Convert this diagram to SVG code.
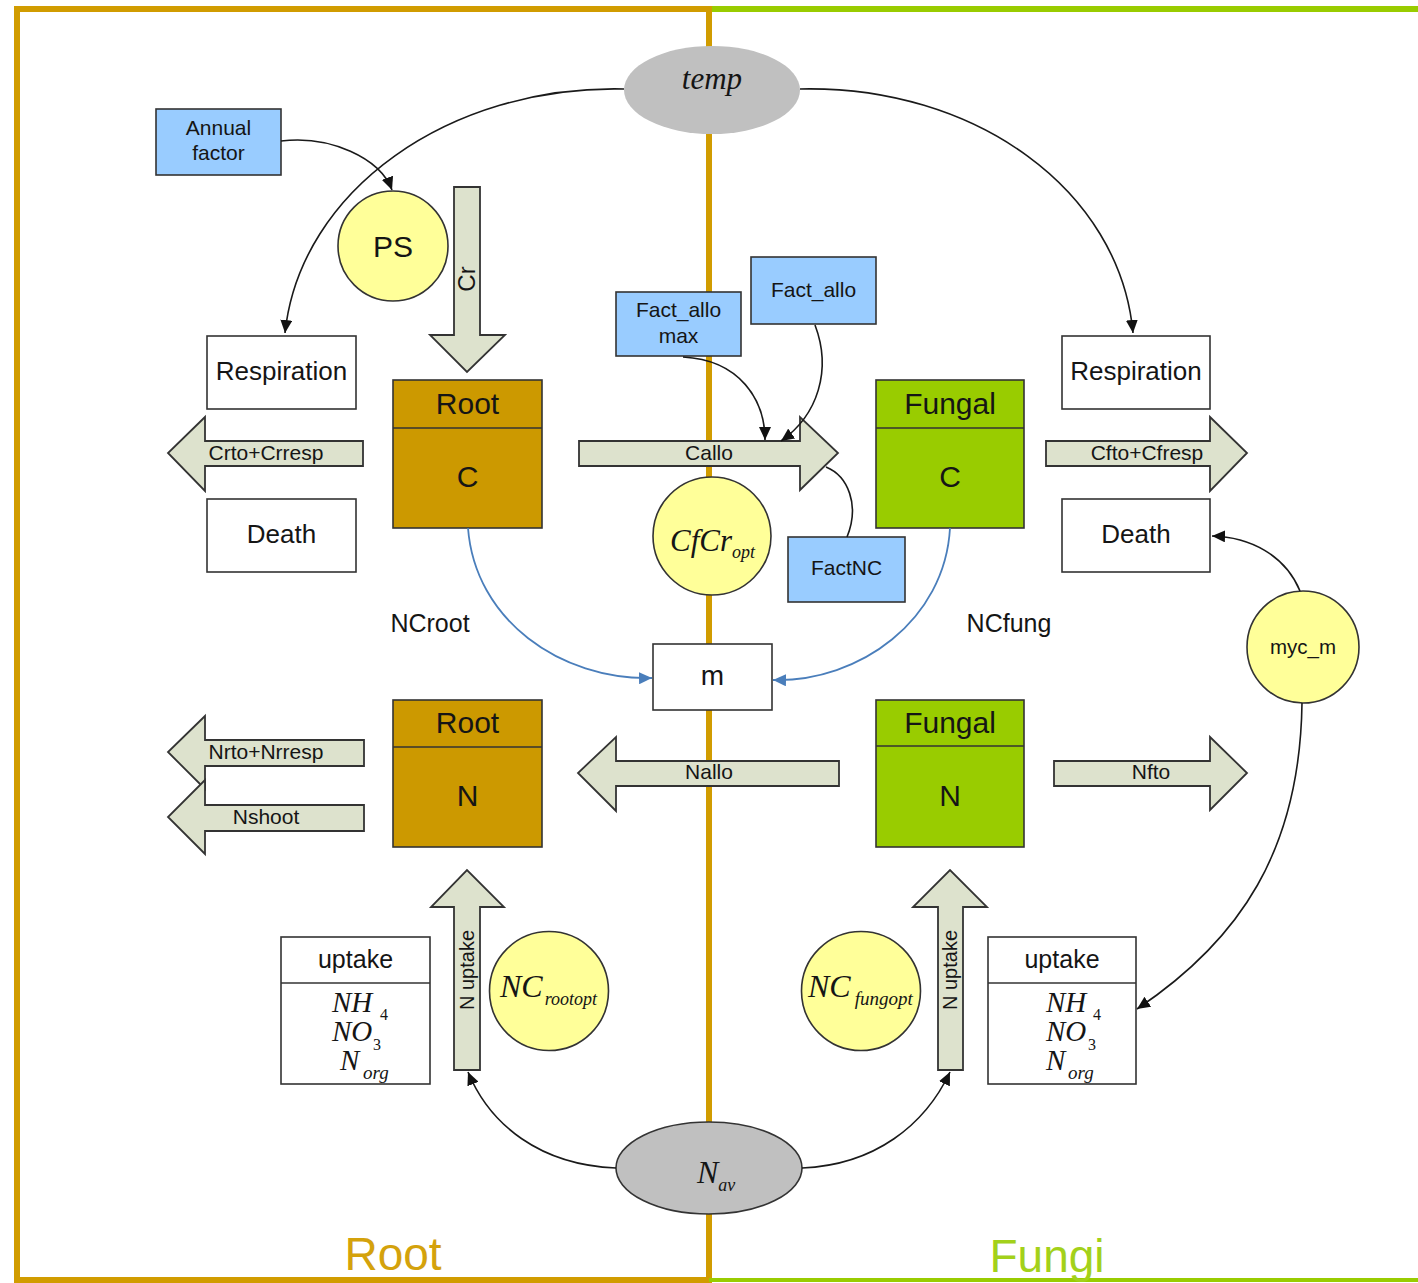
<svg xmlns="http://www.w3.org/2000/svg" width="1418" height="1283" viewBox="0 0 1418 1283">
  <style>
    .sans { font-family: "Liberation Sans", Arial, sans-serif; fill: #151515; }
    .math { font-family: "Liberation Serif", "Times New Roman", serif; font-style: italic; fill: #151515; }
    .digit { font-family: "Liberation Serif", "Times New Roman", serif; fill: #151515; }
    .box { fill: #ffffff; stroke: #333333; stroke-width: 1.6; }
    .param { fill: #99ccff; stroke: #333333; stroke-width: 1.6; }
    .yellow { fill: #ffff99; stroke: #333333; stroke-width: 1.6; }
    .rootpool { fill: #cc9900; stroke: #333333; stroke-width: 1.6; }
    .fungpool { fill: #99cc00; stroke: #333333; stroke-width: 1.6; }
    .flow { fill: #dde2cd; stroke: #333333; stroke-width: 1.8; }
    .link { fill: none; stroke: #1a1a1a; stroke-width: 1.6; }
    .blue { fill: none; stroke: #4a7ebb; stroke-width: 1.8; }
  </style>
  <defs>
    <marker id="head" markerUnits="userSpaceOnUse" markerWidth="14" markerHeight="12" refX="13" refY="6" orient="auto">
      <path d="M0,0 L13,6 L0,12 z" fill="#111111"/>
    </marker>
    <marker id="headBlue" markerUnits="userSpaceOnUse" markerWidth="14" markerHeight="12" refX="13" refY="6" orient="auto">
      <path d="M0,0 L13,6 L0,12 z" fill="#4a7ebb"/>
    </marker>
  </defs>

  <rect width="1418" height="1283" fill="#ffffff"/>

  <!-- compartment frame: root side (gold) and fungal side (green) -->
  <g id="frame">
    <line x1="709" y1="6" x2="709" y2="1283" stroke="#d19c00" stroke-width="6"/>
    <polyline points="712,9 17,9 17,1280 709,1280" fill="none" stroke="#d19c00" stroke-width="6"/>
    <line x1="712" y1="9" x2="1418" y2="9" stroke="#99cc00" stroke-width="6"/>
    <line x1="709" y1="1280" x2="1418" y2="1280" stroke="#99cc00" stroke-width="4"/>
    <text x="393" y="1270" text-anchor="middle" font-family="Liberation Sans, Arial, sans-serif" font-size="46" fill="#d4a20c">Root</text>
    <text x="1047" y="1272" text-anchor="middle" font-family="Liberation Sans, Arial, sans-serif" font-size="46" fill="#a3d11a">Fungi</text>
  </g>

  <!-- drivers -->
  <g id="temp">
    <ellipse cx="712" cy="90" rx="88" ry="44" fill="#c0c0c0"/>
    <text class="math" x="712" y="89" text-anchor="middle" font-size="31">temp</text>
  </g>
  <g id="nav">
    <ellipse cx="709" cy="1168" rx="93" ry="46" fill="#c0c0c0" stroke="#333333" stroke-width="1.6"/>
    <text class="math" x="697" y="1183" font-size="32">N<tspan font-size="18" dy="8">av</tspan></text>
  </g>

  <!-- parameter boxes -->
  <g id="annual-factor">
    <rect class="param" x="156" y="109" width="125" height="66"/>
    <text class="sans" x="218.5" y="135" text-anchor="middle" font-size="21">Annual</text>
    <text class="sans" x="218.5" y="160" text-anchor="middle" font-size="21">factor</text>
  </g>
  <g id="fact-allo-max">
    <rect class="param" x="616" y="292" width="125" height="64"/>
    <text class="sans" x="678.5" y="317" text-anchor="middle" font-size="21">Fact_allo</text>
    <text class="sans" x="678.5" y="343" text-anchor="middle" font-size="21">max</text>
  </g>
  <g id="fact-allo">
    <rect class="param" x="751" y="257" width="125" height="67"/>
    <text class="sans" x="813.5" y="297" text-anchor="middle" font-size="21">Fact_allo</text>
  </g>
  <g id="fact-nc">
    <rect class="param" x="788" y="537" width="117" height="65"/>
    <text class="sans" x="846.5" y="575" text-anchor="middle" font-size="21">FactNC</text>
  </g>

  <!-- rate circles -->
  <g id="ps">
    <circle class="yellow" cx="393" cy="246" r="55"/>
    <text class="sans" x="393" y="257" text-anchor="middle" font-size="30">PS</text>
  </g>
  <g id="cfcr-opt">
    <circle class="yellow" cx="712" cy="536" r="59"/>
    <text class="math" x="670" y="551" font-size="31">CfCr<tspan font-size="18" dy="7">opt</tspan></text>
  </g>
  <g id="myc-m">
    <circle class="yellow" cx="1303" cy="647" r="56"/>
    <text class="sans" x="1303" y="654" text-anchor="middle" font-size="20.5">myc_m</text>
  </g>
  <g id="nc-rootopt">
    <circle class="yellow" cx="549" cy="991" r="59.5"/>
    <text class="math" x="500" y="997" font-size="32">NC<tspan font-size="18" dx="2" dy="8">rootopt</tspan></text>
  </g>
  <g id="nc-fungopt">
    <circle class="yellow" cx="861" cy="991" r="59.5"/>
    <text class="math" x="808" y="997" font-size="32">NC<tspan font-size="19" dx="4" dy="8">fungopt</tspan></text>
  </g>

  <!-- loss boxes -->
  <g id="respiration-root">
    <rect class="box" x="207" y="336" width="149" height="73"/>
    <text class="sans" x="281.5" y="380" text-anchor="middle" font-size="26">Respiration</text>
  </g>
  <g id="death-root">
    <rect class="box" x="207" y="499" width="149" height="73"/>
    <text class="sans" x="281.5" y="543" text-anchor="middle" font-size="26">Death</text>
  </g>
  <g id="respiration-fungi">
    <rect class="box" x="1062" y="336" width="148" height="73"/>
    <text class="sans" x="1136" y="380" text-anchor="middle" font-size="26">Respiration</text>
  </g>
  <g id="death-fungi">
    <rect class="box" x="1062" y="499" width="148" height="73"/>
    <text class="sans" x="1136" y="543" text-anchor="middle" font-size="26">Death</text>
  </g>
  <g id="m">
    <rect class="box" x="653" y="644" width="119" height="66"/>
    <text class="sans" x="712.5" y="685" text-anchor="middle" font-size="28">m</text>
  </g>

  <!-- pools -->
  <g id="root-c">
    <rect class="rootpool" x="393" y="380" width="149" height="148"/>
    <line x1="393" y1="428" x2="542" y2="428" stroke="#333333" stroke-width="1.6"/>
    <text class="sans" x="467.5" y="414" text-anchor="middle" font-size="30">Root</text>
    <text class="sans" x="467.5" y="487" text-anchor="middle" font-size="30">C</text>
  </g>
  <g id="fungal-c">
    <rect class="fungpool" x="876" y="380" width="148" height="148"/>
    <line x1="876" y1="428" x2="1024" y2="428" stroke="#333333" stroke-width="1.6"/>
    <text class="sans" x="950" y="414" text-anchor="middle" font-size="30">Fungal</text>
    <text class="sans" x="950" y="487" text-anchor="middle" font-size="30">C</text>
  </g>
  <g id="root-n">
    <rect class="rootpool" x="393" y="700" width="149" height="147"/>
    <line x1="393" y1="747" x2="542" y2="747" stroke="#333333" stroke-width="1.6"/>
    <text class="sans" x="467.5" y="733" text-anchor="middle" font-size="30">Root</text>
    <text class="sans" x="467.5" y="806" text-anchor="middle" font-size="30">N</text>
  </g>
  <g id="fungal-n">
    <rect class="fungpool" x="876" y="700" width="148" height="147"/>
    <line x1="876" y1="746" x2="1024" y2="746" stroke="#333333" stroke-width="1.6"/>
    <text class="sans" x="950" y="733" text-anchor="middle" font-size="30">Fungal</text>
    <text class="sans" x="950" y="806" text-anchor="middle" font-size="30">N</text>
  </g>

  <!-- uptake forms -->
  <g id="uptake-root">
    <rect class="box" x="281" y="937" width="149" height="147"/>
    <line x1="281" y1="983" x2="430" y2="983" stroke="#333333" stroke-width="1.6"/>
    <text class="sans" x="355.5" y="968" text-anchor="middle" font-size="25">uptake</text>
    <text class="math" x="332" y="1012" font-size="29">NH</text>
    <text class="digit" x="380" y="1020" font-size="16">4</text>
    <text class="math" x="332" y="1041" font-size="29">NO</text>
    <text class="digit" x="373" y="1050" font-size="16">3</text>
    <text class="math" x="340" y="1070" font-size="29">N</text>
    <text class="math" x="363" y="1079" font-size="19">org</text>
  </g>
  <g id="uptake-fungi">
    <rect class="box" x="988" y="937" width="148" height="147"/>
    <line x1="988" y1="983" x2="1136" y2="983" stroke="#333333" stroke-width="1.6"/>
    <text class="sans" x="1062" y="968" text-anchor="middle" font-size="25">uptake</text>
    <text class="math" x="1046" y="1012" font-size="29">NH</text>
    <text class="digit" x="1093" y="1020" font-size="16">4</text>
    <text class="math" x="1046" y="1041" font-size="29">NO</text>
    <text class="digit" x="1088" y="1050" font-size="16">3</text>
    <text class="math" x="1046" y="1070" font-size="29">N</text>
    <text class="math" x="1068" y="1079" font-size="19">org</text>
  </g>

  <!-- mass flows (block arrows) -->
  <g id="flow-cr">
    <polygon class="flow" points="454,187 480,187 480,335 505,335 467,372 430,335 454,335"/>
    <text class="sans" transform="translate(475,279) rotate(-90)" text-anchor="middle" font-size="24">Cr</text>
  </g>
  <g id="flow-crto">
    <polygon class="flow" points="363,441 363,466 205,466 205,491 168,453 205,417 205,441"/>
    <text class="sans" x="266" y="460" text-anchor="middle" font-size="21">Crto+Crresp</text>
  </g>
  <g id="flow-callo">
    <polygon class="flow" points="579,441 800,441 800,417 838,453 800,490 800,466 579,466"/>
    <text class="sans" x="709" y="460" text-anchor="middle" font-size="21">Callo</text>
  </g>
  <g id="flow-cfto">
    <polygon class="flow" points="1046,441 1210,441 1210,417 1247,453 1210,491 1210,466 1046,466"/>
    <text class="sans" x="1147" y="460" text-anchor="middle" font-size="21">Cfto+Cfresp</text>
  </g>
  <g id="flow-nrto">
    <polygon class="flow" points="364,740 364,766 205,766 205,789 168,752 205,716 205,740"/>
    <text class="sans" x="266" y="759" text-anchor="middle" font-size="21">Nrto+Nrresp</text>
  </g>
  <g id="flow-nshoot">
    <polygon class="flow" points="364,805 364,831 205,831 205,854 168,817 205,780 205,805"/>
    <text class="sans" x="266" y="824" text-anchor="middle" font-size="21">Nshoot</text>
  </g>
  <g id="flow-nallo">
    <polygon class="flow" points="839,761 839,786 616,786 616,811 578,773 616,737 616,761"/>
    <text class="sans" x="709" y="779" text-anchor="middle" font-size="21">Nallo</text>
  </g>
  <g id="flow-nfto">
    <polygon class="flow" points="1054,761 1210,761 1210,737 1247,773 1210,810 1210,786 1054,786"/>
    <text class="sans" x="1151" y="779" text-anchor="middle" font-size="21">Nfto</text>
  </g>
  <g id="flow-nuptake-root">
    <polygon class="flow" points="454,1070 480,1070 480,907 504,907 467,870 431,907 454,907"/>
    <text class="sans" transform="translate(474,970) rotate(-90)" text-anchor="middle" font-size="20">N uptake</text>
  </g>
  <g id="flow-nuptake-fungi">
    <polygon class="flow" points="938,1070 963,1070 963,907 987,907 950,870 913,907 938,907"/>
    <text class="sans" transform="translate(957,970) rotate(-90)" text-anchor="middle" font-size="20">N uptake</text>
  </g>

  <!-- N:C ratio labels -->
  <g id="labels">
    <text class="sans" x="430" y="632" text-anchor="middle" font-size="25">NCroot</text>
    <text class="sans" x="1009" y="632" text-anchor="middle" font-size="25">NCfung</text>
  </g>

  <!-- influence connectors -->
  <g id="connectors">
    <path class="link" d="M624,89 C450,85 300,190 285,333" marker-end="url(#head)"/>
    <path class="link" d="M800,89 C975,85 1120,190 1133,333" marker-end="url(#head)"/>
    <path class="link" d="M281,141 C330,135 380,158 392,190" marker-end="url(#head)"/>
    <path class="link" d="M683,357 C740,360 765,400 765,440" marker-end="url(#head)"/>
    <path class="link" d="M815,325 C832,370 818,415 781,441" marker-end="url(#head)"/>
    <path class="link" d="M847,537 C860,505 848,476 826,467"/>
    <path class="blue" d="M468,528 C475,620 560,680 652,678" marker-end="url(#headBlue)"/>
    <path class="blue" d="M950,528 C945,620 860,682 773,680" marker-end="url(#headBlue)"/>
    <path class="link" d="M1300,591 C1285,555 1250,537 1212,536" marker-end="url(#head)"/>
    <path class="link" d="M1302,703 C1300,850 1240,940 1137,1009" marker-end="url(#head)"/>
    <path class="link" d="M616,1168 C540,1165 490,1125 468,1072" marker-end="url(#head)"/>
    <path class="link" d="M802,1168 C875,1165 925,1125 950,1072" marker-end="url(#head)"/>
  </g>
</svg>
